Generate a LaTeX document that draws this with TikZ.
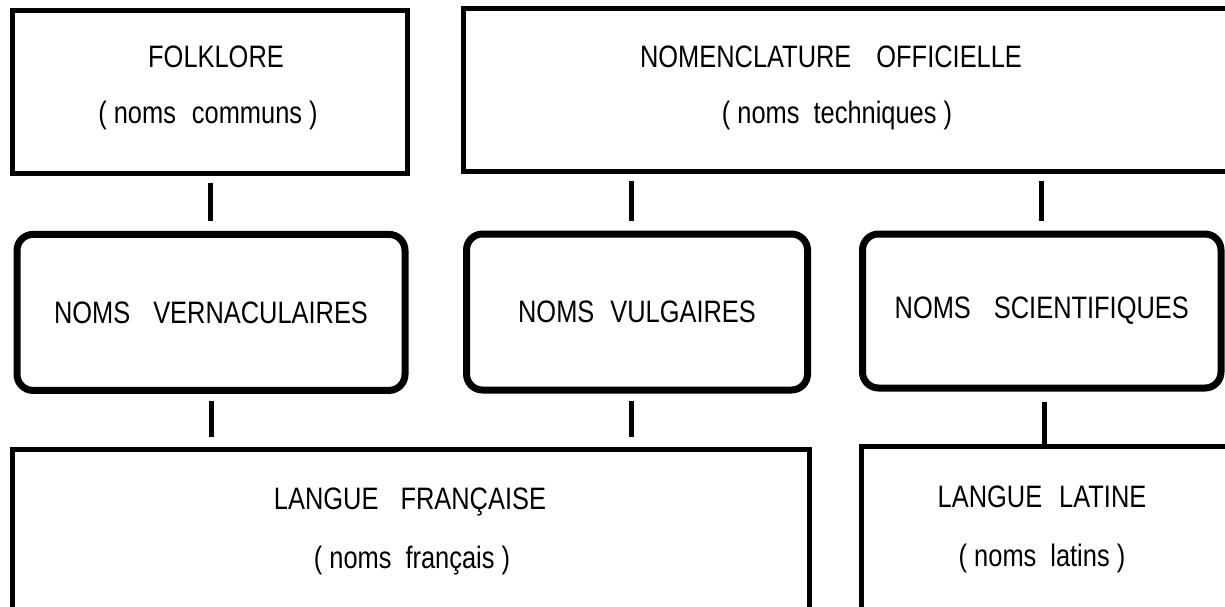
\documentclass[tikz,border=0pt]{standalone}
\usepackage{fontspec}
\setmainfont{Liberation Sans}[FakeStretch=0.82]
\usetikzlibrary{positioning}

\tikzset{
  boite/.style={draw, line width=2.5pt, inner sep=0pt},
  bulle/.style={draw, line width=3.5pt, rounded corners=8pt, inner sep=0pt, font=\fontsize{15.5}{18}\selectfont},
  ligne/.style={anchor=base, inner sep=0pt, font=\fontsize{15.5}{18}\selectfont},
  lien/.style={line width=2.5pt, shorten <=3.5pt, shorten >=5pt},
}

\begin{document}
\begin{tikzpicture}[x=0.5pt, y=-0.5pt]
    \clip (0,0) rectangle (1225,606);
    % haut
    \node[boite, minimum width=197.5pt, minimum height=81.25pt] (folk) at (210,91.75) {};
    \node[boite, minimum width=400pt, minimum height=81.5pt] (nomen) at (863.5,90) {};
    \node[ligne] (folkA) at (216,67) {FOLKLORE};
    \node[ligne] (folkB) at (208,123) {( noms\hspace{8pt}communs )};
    \node[ligne] (nomenA) at (831,67) {NOMENCLATURE\hspace{12.5pt}OFFICIELLE};
    \node[ligne] (nomenB) at (837,123) {( noms\hspace{7pt}techniques )};
    % milieu
    \node[bulle, minimum width=194pt, minimum height=78pt] (vern) at (211,312.4) {NOMS\hspace{11.5pt}VERNACULAIRES};
    \node[bulle, minimum width=170.5pt, minimum height=78pt] (vulg) at (637,312) {NOMS\hspace{8pt}VULGAIRES};
    \node[bulle, minimum width=179.25pt, minimum height=77pt] (sci) at (1041.75,311) {NOMS\hspace{11.5pt}SCIENTIFIQUES};
    % bas
    \node[boite, minimum width=398.5pt, minimum height=105.5pt] (fran) at (411,554.5) {};
    \node[boite, minimum width=219.5pt, minimum height=107pt] (latin) at (1080.5,553) {};
    \node[ligne] (franA) at (410,509) {LANGUE\hspace{11pt}FRANÇAISE};
    \node[ligne] (franB) at (412,568) {( noms\hspace{7pt}français )};
    \node[ligne] (latinA) at (1042,507) {LANGUE\hspace{8.5pt}LATINE};
    \node[ligne] (latinB) at (1042,566) {( noms\hspace{7pt}latins )};
    % liens
    \coordinate (vh) at ([xshift=-3pt]vulg.north);
    \coordinate (vb) at ([xshift=-3pt]vulg.south);
    \draw[lien] (folk.south) -- (folk.south |- vern.north);
    \draw[lien] (nomen.south -| vh) -- (vh);
    \draw[lien] (nomen.south -| sci.north) -- (sci.north);
    \draw[lien] (vern.south) -- (vern.south |- fran.north);
    \draw[lien] (vb) -- (vb |- fran.north);
    \draw[lien, shorten <=5pt, shorten >=0pt] ([xshift=1.5pt]sci.south) -- ([xshift=1.5pt]sci.south |- latin.north);
\end{tikzpicture}
\end{document}
